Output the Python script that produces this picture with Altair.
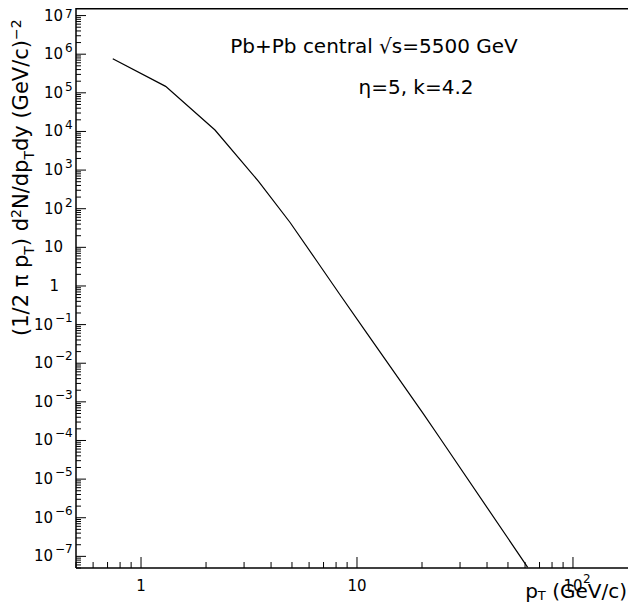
import altair as alt
import pandas as pd

# ---- data (log-log spectrum) ----
pt = [0.74, 1.3, 2.2, 3.5, 4.9, 6.5, 8.3, 10.9, 20.3, 24.2, 61.7]
yield_vals = [7.6e5, 1.47e5, 1.09e4, 510, 44, 4.5, 0.62, 0.070, 4.9e-4, 1.16e-4, 5.2e-8]

x_domain = [0.5, 179.8]
y_domain = [5e-8, 1.57e7]

y_major_exp = list(range(-7, 8))
x_major = [1, 10, 100]
x_major_text = ["1", "10", "10"]

W, H = 552, 560
FONT = "DejaVu Sans"

y_minor = [m * 10.0 ** e for e in range(-8, 8) for m in range(2, 10)
           if y_domain[0] <= m * 10.0 ** e <= y_domain[1]]
x_minor = [m * 10.0 ** e for e in range(-1, 3) for m in range(2, 10)
           if x_domain[0] <= m * 10.0 ** e <= x_domain[1]]

xs = alt.Scale(type="log", domain=x_domain, nice=False, zero=False)
ys = alt.Scale(type="log", domain=y_domain, nice=False, zero=False)


def X(f):
    return alt.X(f + ":Q", scale=xs, axis=None)


def Y(f):
    return alt.Y(f + ":Q", scale=ys, axis=None)


def txt(**kw):
    base = dict(font=FONT, color="black")
    base.update(kw)
    return base


layers = []

df_line = pd.DataFrame({"pt": pt, "v": yield_vals})
layers.append(alt.Chart(df_line).mark_line(color="black", strokeWidth=1.2, clip=True)
              .encode(x=X("pt"), y=Y("v")))

# frame lines (top, bottom, left; no right frame visible in the reference)
one = pd.DataFrame({"a": [0]})
layers.append(alt.Chart(one).mark_rule(color="black", strokeWidth=1.5)
              .encode(x=alt.value(0), x2=alt.value(W), y=alt.value(0.75)))
layers.append(alt.Chart(one).mark_rule(color="black", strokeWidth=1.5)
              .encode(x=alt.value(0), x2=alt.value(W), y=alt.value(H)))
layers.append(alt.Chart(one).mark_rule(color="black", strokeWidth=1.5)
              .encode(x=alt.value(0), y=alt.value(0), y2=alt.value(H)))

# inward ticks
layers.append(alt.Chart(pd.DataFrame({"v": [10.0 ** e for e in y_major_exp]}))
              .mark_rule(color="black", strokeWidth=1)
              .encode(y=Y("v"), x=alt.value(0), x2=alt.value(10)))
layers.append(alt.Chart(pd.DataFrame({"v": y_minor})).mark_rule(color="black", strokeWidth=1)
              .encode(y=Y("v"), x=alt.value(0), x2=alt.value(5)))
layers.append(alt.Chart(pd.DataFrame({"pt": x_major})).mark_rule(color="black", strokeWidth=1)
              .encode(x=X("pt"), y=alt.value(H), y2=alt.value(H - 11)))
layers.append(alt.Chart(pd.DataFrame({"pt": x_minor})).mark_rule(color="black", strokeWidth=1)
              .encode(x=X("pt"), y=alt.value(H), y2=alt.value(H - 6)))

# y tick labels: "10" + superscript exponent
pos_exp = [e for e in y_major_exp if e >= 1]
neg_exp = [e for e in y_major_exp if e < 0]
layers.append(alt.Chart(pd.DataFrame({"v": [10.0 ** e for e in pos_exp], "t": ["10"] * len(pos_exp)}))
              .mark_text(**txt(align="right", baseline="middle", fontSize=15))
              .encode(y=Y("v"), x=alt.value(-13), text="t:N"))
layers.append(alt.Chart(pd.DataFrame({"v": [10.0 ** e for e in neg_exp], "t": ["10"] * len(neg_exp)}))
              .mark_text(**txt(align="right", baseline="middle", fontSize=15))
              .encode(y=Y("v"), x=alt.value(-23), text="t:N"))
layers.append(alt.Chart(pd.DataFrame({"v": [1.0], "t": ["1"]}))
              .mark_text(**txt(align="right", baseline="middle", fontSize=15))
              .encode(y=Y("v"), x=alt.value(-17), text="t:N"))
sup_pos = [e for e in pos_exp if 2 <= e <= 6]
layers.append(alt.Chart(pd.DataFrame({"v": [10.0 ** e for e in sup_pos], "t": [str(e) for e in sup_pos]}))
              .mark_text(**txt(align="left", baseline="alphabetic", fontSize=12, dy=-2))
              .encode(y=Y("v"), x=alt.value(-11), text="t:N"))
layers.append(alt.Chart(pd.DataFrame({"v": [1e7], "t": ["7"]}))
              .mark_text(**txt(align="left", baseline="alphabetic", fontSize=12, dy=2))
              .encode(y=Y("v"), x=alt.value(-11), text="t:N"))
layers.append(alt.Chart(pd.DataFrame({"v": [10.0 ** e for e in neg_exp],
                                      "t": ["\u2212" + str(-e) for e in neg_exp]}))
              .mark_text(**txt(align="left", baseline="alphabetic", fontSize=12, dy=-3))
              .encode(y=Y("v"), x=alt.value(-21), text="t:N"))

# x tick labels
df_xl = pd.DataFrame({"pt": x_major, "t": x_major_text})
layers.append(alt.Chart(df_xl).mark_text(**txt(align="center", baseline="alphabetic", fontSize=15))
              .encode(x=X("pt"), y=alt.value(H + 23), text="t:N"))
layers.append(alt.Chart(pd.DataFrame({"pt": [100], "t": ["2"]}))
              .mark_text(**txt(align="left", baseline="alphabetic", fontSize=12, dx=10))
              .encode(x=X("pt"), y=alt.value(H + 15), text="t:N"))

# annotations
layers.append(alt.Chart(one).mark_text(**txt(text="Pb+Pb central \u221as=5500 GeV", align="center",
                                             baseline="alphabetic", fontSize=20))
              .encode(x=alt.value(298), y=alt.value(45)))
layers.append(alt.Chart(one).mark_text(**txt(text="\u03b7=5, k=4.2", align="center",
                                             baseline="alphabetic", fontSize=20))
              .encode(x=alt.value(340), y=alt.value(86)))

# axis titles built from pieces (sub/superscripts)
CW = {' ': 0.318, '(': 0.390, ')': 0.390, '/': 0.337, '\u03c0': 0.602, 'p': 0.635, 'd': 0.635,
      'N': 0.748, 'y': 0.592, 'G': 0.776, 'e': 0.615, 'V': 0.684, 'c': 0.550, 'T': 0.611,
      '\u2212': 0.838}


def tw(s, fs):
    return sum(CW.get(ch, 0.636) for ch in s) * fs


FS_T, FS_S = 21, 14
ytitle = [("(1/2 \u03c0 p", "n"), ("T", "sub"), (") d", "n"), ("2", "sup"), ("N/dp", "n"),
          ("T", "sub"), ("dy (GeV/c)", "n"), ("\u22122", "sup")]
cur = 328
for s, kind in ytitle:
    fs = FS_T if kind == "n" else FS_S
    bx = {"n": -48, "sub": -42, "sup": -55}[kind]
    layers.append(alt.Chart(one).mark_text(**txt(text=s, angle=270, align="left", baseline="alphabetic",
                                                 fontSize=fs))
                  .encode(x=alt.value(bx), y=alt.value(cur)))
    cur -= tw(s, fs)

# x title: "p", subscript "T", then "(GeV/c)" after a space
FS_X, FS_XS = 20, 13
pieces_x = [("p", "n", 0.0), ("T", "sub", 0.0), ("(GeV/c)", "n", tw(" ", FS_X))]
total = sum(tw(s, FS_X if k == "n" else FS_XS) + gap for s, k, gap in pieces_x)
cx = 551 - total
for s, kind, gap in pieces_x:
    fs = FS_X if kind == "n" else FS_XS
    cx += gap
    by = {"n": 590, "sub": 592}[kind]
    layers.append(alt.Chart(one).mark_text(**txt(text=s, align="left", baseline="alphabetic", fontSize=fs))
                  .encode(x=alt.value(cx), y=alt.value(by)))
    cx += tw(s, fs)

chart = alt.layer(*layers).properties(
    width=W, height=H,
    padding={"left": 68, "top": 0, "right": 0, "bottom": 36},
    autosize=alt.AutoSizeParams(type="none"),
    background="white",
).configure_view(stroke=None)

chart.save("out.html", embed_options={"renderer": "svg", "actions": False})
